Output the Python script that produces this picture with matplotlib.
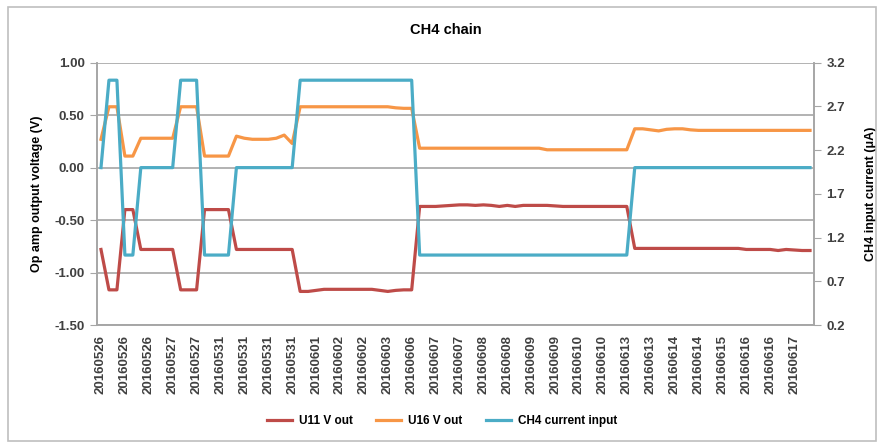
import numpy as np
import matplotlib
matplotlib.use("Agg")
import matplotlib.pyplot as plt
from matplotlib.patches import Rectangle

# tick labels, one every third sample
dates = ['20160526', '20160526', '20160526', '20160527', '20160527',
         '20160531', '20160531', '20160531', '20160531', '20160601',
         '20160602', '20160602', '20160603', '20160606', '20160607',
         '20160607', '20160608', '20160608', '20160609', '20160609',
         '20160610', '20160610', '20160613', '20160613', '20160614',
         '20160614', '20160615', '20160616', '20160616', '20160617']

# U11 output (V)
u11 = ([-0.78] + [-1.165] * 2 + [-0.40] * 2 + [-0.78] * 5 + [-1.165] * 3
       + [-0.40] * 4 + [-0.78] * 8
       + [-1.18, -1.18, -1.17] + [-1.16] * 7 + [-1.17, -1.18, -1.17, -1.165, -1.165]
       + [-0.37, -0.37, -0.37, -0.365, -0.36, -0.355, -0.355, -0.36, -0.355, -0.36,
          -0.37, -0.36, -0.37, -0.36, -0.36, -0.36, -0.36, -0.365, -0.37] + [-0.37] * 8
       + [-0.77] * 14 + [-0.78] * 4 + [-0.79, -0.78, -0.785, -0.79, -0.79])

# U16 output (V)
u16 = ([0.27] + [0.58] * 2 + [0.11] * 2 + [0.28] * 5 + [0.58] * 3 + [0.11] * 4
       + [0.30, 0.28, 0.27, 0.27, 0.27, 0.28, 0.31, 0.23]
       + [0.58] * 12 + [0.57, 0.565, 0.565]
       + [0.185] * 16 + [0.17] * 11
       + [0.37, 0.37, 0.36, 0.35, 0.365, 0.37, 0.37, 0.36] + [0.355] * 15)

# CH4 input current (uA)
ch4 = ([2.0] + [3.0] * 2 + [1.0] * 2 + [2.0] * 5 + [3.0] * 3 + [1.0] * 4
       + [2.0] * 8 + [3.0] * 15 + [1.0] * 27 + [2.0] * 23)

c_red = '#BE4B48'
c_orange = '#F79646'
c_blue = '#4BACC6'
grid_c = '#A6A6A6'

plt.rcParams['font.family'] = ['Liberation Sans', 'DejaVu Sans']

fig = plt.figure(figsize=(8.8, 4.44), dpi=100)
fig.patch.set_facecolor('white')
fig.patches.append(Rectangle((8 / 880, 3 / 444), 868 / 880, 434 / 444,
                             transform=fig.transFigure, fill=False,
                             edgecolor='#BFBFBF', lw=1.2))

ax = fig.add_axes([97 / 880, 1 - 325 / 444, 717 / 880, 262.3 / 444])
ax2 = ax.twinx()

x = np.arange(len(u11))
l1, = ax.plot(x, u11, color=c_red, lw=2.3, label='U11 V out', zorder=3)
l2, = ax.plot(x, u16, color=c_orange, lw=2.3, label='U16 V out', zorder=3)
l3, = ax2.plot(x, ch4, color=c_blue, lw=2.3, label='CH4 current input', zorder=3)

ax.set_xlim(-0.5, len(x) - 0.5)
ax.set_ylim(-1.5, 1.0)
ax.set_yticks(np.arange(-1.5, 1.01, 0.5))
ax.set_yticklabels(['%.2f' % v for v in np.arange(-1.5, 1.01, 0.5)])
ax2.set_ylim(0.2, 3.2)
ax2.set_yticks(np.arange(0.2, 3.21, 0.5))
ax2.set_yticklabels(['%.1f' % v for v in np.arange(0.2, 3.21, 0.5)])

ax.set_xticks(np.arange(0, len(x), 3))
ax.set_xticklabels(dates, rotation=90, fontsize=9.5, fontweight='bold', color='#404040')
ax.tick_params(axis='x', length=0, pad=7)
ax.tick_params(axis='y', length=5, color=grid_c, labelsize=9.5, labelcolor='#404040', pad=4)
ax2.tick_params(axis='y', length=5, color=grid_c, labelsize=9.5, labelcolor='#404040', pad=4)
for lab in ax.get_yticklabels() + ax2.get_yticklabels():
    lab.set_fontweight('bold')

ax.yaxis.grid(True, color=grid_c, lw=1.2)
ax.set_axisbelow(True)
for a in (ax, ax2):
    a.spines['top'].set_visible(False)
    for s in ('left', 'right', 'bottom'):
        a.spines[s].set_color(grid_c)
        a.spines[s].set_linewidth(1.2)

ax.set_ylabel('Op amp output voltage (V)', fontsize=9, fontweight='bold', labelpad=8)
ax2.set_ylabel('CH4 input current (\u03bcA)', fontsize=9, fontweight='bold', labelpad=14)

fig.text(446 / 880, 1 - 30 / 444, 'CH4 chain', ha='center', va='center',
         fontsize=10.5, fontweight='bold')

leg = fig.legend(handles=[l1, l2, l3], loc='center', bbox_to_anchor=(442 / 880, 1 - 421 / 444),
                 ncol=3, frameon=False, handlelength=2.1, handletextpad=0.6,
                 columnspacing=2.0, prop={'weight': 'bold', 'size': 8.5})

fig.savefig('out.png', dpi=100)
